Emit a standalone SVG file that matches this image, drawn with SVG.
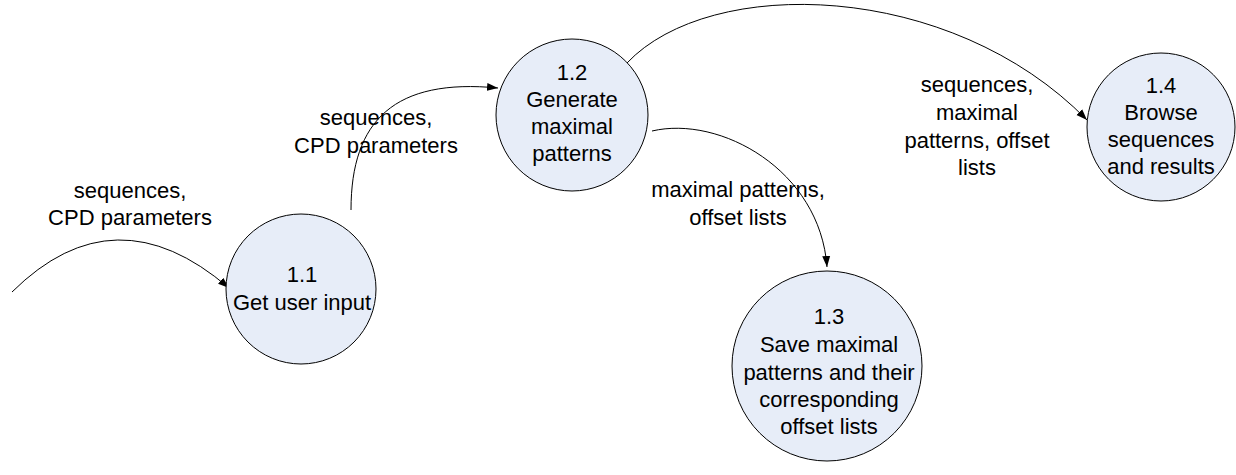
<svg xmlns="http://www.w3.org/2000/svg" width="1236" height="475" viewBox="0 0 1236 475">
<defs>
<marker id="arrow" markerUnits="userSpaceOnUse" markerWidth="12" markerHeight="10" viewBox="0 0 12 10" refX="11" refY="5" orient="auto">
<path d="M0,1 L11,5 L0,9 Z" fill="#000"/>
</marker>
<style>
.node circle{fill:#E7EDF8;stroke:#000;stroke-width:1}
text{font-family:"Liberation Sans",Arial,sans-serif;font-size:22px;fill:#000;text-anchor:middle}
.edge{fill:none;stroke:#000;stroke-width:1;marker-end:url(#arrow)}
</style>
</defs>
<rect width="1236" height="475" fill="#fff"/>
<g id="connectors">
<path class="edge" d="M12,292 Q115,190 229,288"/>
<path class="edge" d="M351,210 C351,120 395,78 498,88"/>
<path class="edge" d="M652,131 C720,115 820,170 827,267"/>
<path class="edge" d="M627,63 C710,-25 950,-20 1087,120"/>
</g>
<g id="labels">
<text x="130" y="198">sequences,</text>
<text x="130" y="225">CPD parameters</text>
<text x="376" y="125">sequences,</text>
<text x="376" y="153">CPD parameters</text>
<text x="738" y="197">maximal patterns,</text>
<text x="738" y="225">offset lists</text>
<text x="977" y="92">sequences,</text>
<text x="977" y="120">maximal</text>
<text x="977" y="148">patterns, offset</text>
<text x="977" y="175">lists</text>
</g>
<g id="n1_1" class="node">
<circle cx="301" cy="289" r="75"/>
<text x="302" y="282">1.1</text>
<text x="302" y="310">Get user input</text>
</g>
<g id="n1_2" class="node">
<circle cx="572" cy="115" r="76"/>
<text x="572" y="80">1.2</text>
<text x="572" y="107">Generate</text>
<text x="572" y="134">maximal</text>
<text x="572" y="161">patterns</text>
</g>
<g id="n1_3" class="node">
<circle cx="827" cy="366" r="95"/>
<text x="829" y="324">1.3</text>
<text x="829" y="352">Save maximal</text>
<text x="829" y="380">patterns and their</text>
<text x="829" y="407">corresponding</text>
<text x="829" y="434">offset lists</text>
</g>
<g id="n1_4" class="node">
<circle cx="1161" cy="127" r="74"/>
<text x="1161" y="93">1.4</text>
<text x="1161" y="120">Browse</text>
<text x="1161" y="147">sequences</text>
<text x="1161" y="174">and results</text>
</g>
</svg>
